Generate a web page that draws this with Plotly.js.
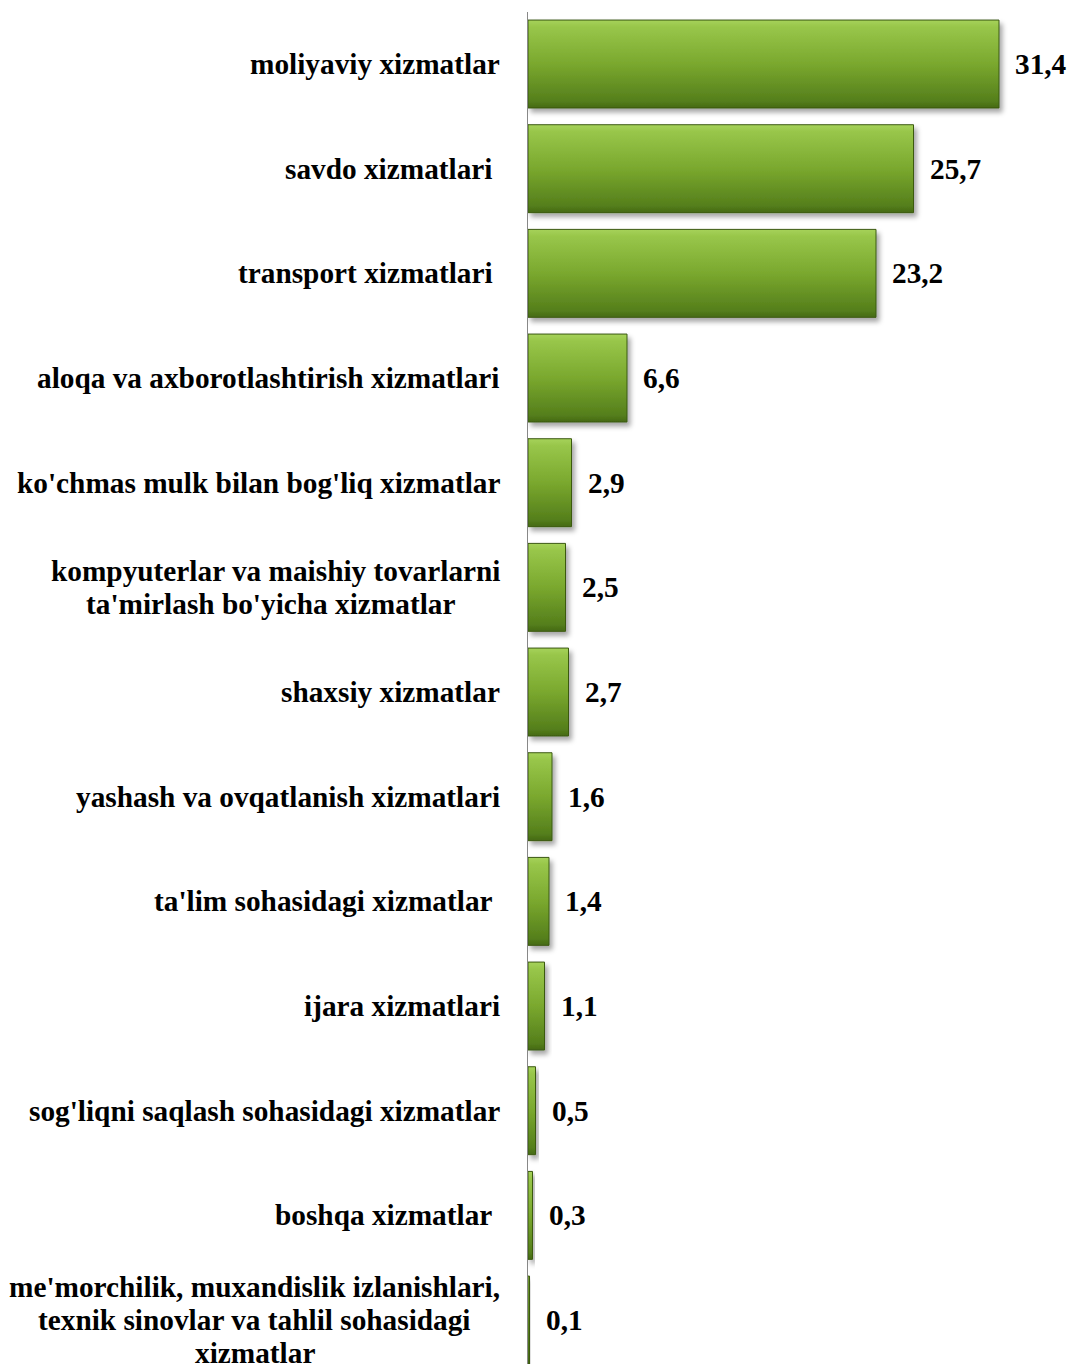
<!DOCTYPE html>
<html>
<head>
<meta charset="utf-8">
<script src="https://cdn.plot.ly/plotly-3.0.1.min.js"></script>
<style>
html,body{margin:0;padding:0;background:#fff;}
#chart{width:1071px;height:1364px;}
</style>
</head>
<body>
<div id="chart"></div>
<script>
const categories = [
  "moliyaviy xizmatlar",
  "savdo xizmatlari\u00a0",
  "transport xizmatlari\u00a0",
  "aloqa va axborotlashtirish xizmatlari",
  "ko'chmas mulk bilan bog'liq xizmatlar",
  "kompyuterlar va maishiy tovarlarni<br>ta'mirlash bo'yicha xizmatlar\u00a0",
  "shaxsiy xizmatlar",
  "yashash va ovqatlanish xizmatlari",
  "ta'lim sohasidagi xizmatlar\u00a0",
  "ijara xizmatlari",
  "sog'liqni saqlash sohasidagi xizmatlar",
  "boshqa xizmatlar\u00a0",
  "me'morchilik, muxandislik izlanishlari,<br>texnik sinovlar va tahlil sohasidagi<br>xizmatlar"
];
const values = [31.4, 25.7, 23.2, 6.6, 2.9, 2.5, 2.7, 1.6, 1.4, 1.1, 0.5, 0.3, 0.1];
const valueLabels = values.map(v => v.toFixed(1).replace('.', ','));

const FONT_FAMILY = "'Liberation Serif', 'Times New Roman', serif";
const FONT_SIZE = 29.3;
const LINE_H = 33;
const font = {family: FONT_FAMILY, size: FONT_SIZE, color: '#000'};

const ctx = document.createElement('canvas').getContext('2d');
ctx.font = 'bold ' + FONT_SIZE + 'px ' + FONT_FAMILY;
const measure = s => ctx.measureText(s).width;

const annotations = [];
categories.forEach((c, i) => {
  const lines = c.split('<br>');
  const widths = lines.map(measure);
  const maxW = Math.max(...widths);
  const n = lines.length;
  lines.forEach((ln, k) => {
    annotations.push({
      x: 0, y: c, xref: 'x', yref: 'y',
      text: '<b>' + ln + '</b>', showarrow: false,
      xanchor: 'right', yanchor: 'middle',
      xshift: -26 - (maxW - widths[k]) / 2,
      yshift: -(k - (n - 1) / 2) * LINE_H,
      font: font
    });
  });
  annotations.push({
    x: values[i], y: c, xref: 'x', yref: 'y',
    text: '<b>' + valueLabels[i] + '</b>', showarrow: false,
    xanchor: 'left', yanchor: 'middle', xshift: 14,
    font: font
  });
});

const trace = {
  type: 'bar', orientation: 'h',
  x: values, y: categories,
  marker: {color: '#7aa82e', line: {color: '#3b5a10', width: 1}},
  hoverinfo: 'none',
  cliponaxis: false
};

const layout = {
  width: 1071, height: 1364,
  margin: {l: 528, r: 0, t: 12, b: 0},
  paper_bgcolor: '#fff', plot_bgcolor: '#fff',
  showlegend: false,
  bargap: 0.16,
  xaxis: {range: [0, 36.2], showgrid: false, zeroline: false, showticklabels: false, showline: false, ticks: ''},
  yaxis: {type: 'category', range: [12.42, -0.497], showgrid: false, zeroline: false,
          showticklabels: false, ticks: '', showline: true, linecolor: '#888888', linewidth: 1.5},
  annotations: annotations,
  font: font
};

Plotly.newPlot('chart', [trace], layout, {displayModeBar: false, staticPlot: true}).then(gd => {
  const svg = gd.querySelector('svg.main-svg');
  const ns = 'http://www.w3.org/2000/svg';
  let defs = svg.querySelector('defs');
  if (!defs) { defs = document.createElementNS(ns, 'defs'); svg.insertBefore(defs, svg.firstChild); }
  defs.insertAdjacentHTML('beforeend',
    '<linearGradient id="barGrad" x1="0" y1="0" x2="0" y2="1">' +
      '<stop offset="0" stop-color="#a6d25a"/>' +
      '<stop offset="0.08" stop-color="#98c64a"/>' +
      '<stop offset="0.5" stop-color="#7aa82e"/>' +
      '<stop offset="0.92" stop-color="#557f1c"/>' +
      '<stop offset="1" stop-color="#456914"/>' +
    '</linearGradient>' +
    '<filter id="barShadow" x="-20%" y="-20%" width="160%" height="160%">' +
      '<feDropShadow dx="3" dy="4" stdDeviation="2.5" flood-color="#000" flood-opacity="0.35"/>' +
    '</filter>');
  svg.querySelectorAll('.bars .point path').forEach(p => {
    p.style.fill = 'url(#barGrad)';
    p.style.fillOpacity = 1;
    p.setAttribute('filter', 'url(#barShadow)');
  });
});
</script>
</body>
</html>
